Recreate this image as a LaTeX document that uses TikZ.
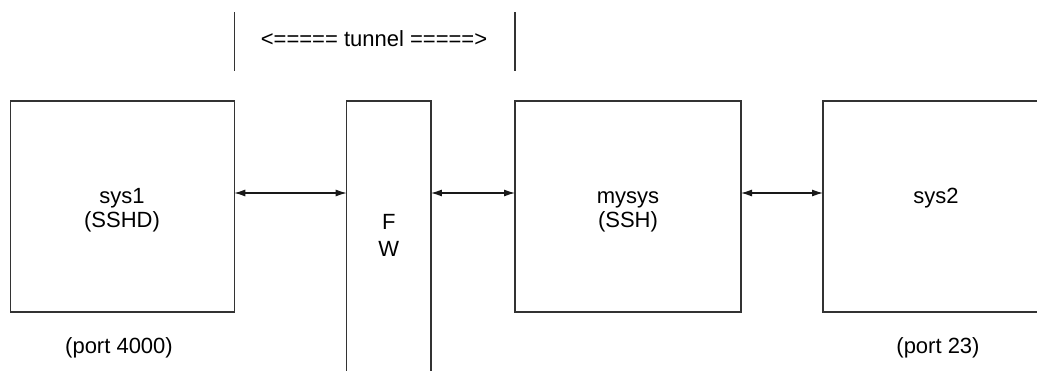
\documentclass[tikz,border=0pt]{standalone}
\usepackage{fontspec}
\setmainfont{Liberation Sans}
\usetikzlibrary{arrows.meta}
\begin{document}
\begin{tikzpicture}[x=1pt,y=-1pt,
  box/.style={draw=black!80,line width=1.1pt,inner sep=0pt,outer sep=0pt,rectangle},
  txt/.style={inner sep=0pt,outer sep=0pt,align=center,anchor=base,font=\fontsize{22}{24}\selectfont},
  link/.style={{Latex[length=11pt,width=7pt]}-{Latex[length=11pt,width=7pt]},line width=1.1pt,black!90},
  tline/.style={line width=1.1pt,black!80}]
\clip (0,0) rectangle (1037,370);
\fill[white] (0,0) rectangle (1037,370);
\node[box,minimum width=224pt,minimum height=211pt] (sys1) at (122.3,206.5) {};
\node[box,minimum width=84.3pt,minimum height=278pt] (fw) at (388.8,240) {};
\node[box,minimum width=226pt,minimum height=211pt] (mysys) at (628,206.5) {};
\node[box,minimum width=226pt,minimum height=211pt] (sys2) at (936,206.5) {};
\node[txt] (sys1label) at (122,227) {sys1\\(SSHD)};
\node[txt,font=\fontsize{22}{27}\selectfont] (fwlabel) at (388.8,256.5) {F\\W};
\node[txt] (mysyslabel) at (628,227) {mysys\\(SSH)};
\node[txt] (sys2label) at (936,203) {sys2};
\node[txt] (port1) at (119,353) {(port 4000)};
\node[txt] (port2) at (938,353) {(port 23)};
\node[txt] (tunnel) at (374,46.5) {<===== tunnel =====>};
\coordinate (arow) at (0,193);
\coordinate (ttop) at (0,12);
\coordinate (tbot) at (0,71);
\draw[link] (sys1.east |- arow) -- (fw.west |- arow);
\draw[link] (fw.east |- arow) -- (mysys.west |- arow);
\draw[link] (mysys.east |- arow) -- (sys2.west |- arow);
\draw[tline] (sys1.east |- ttop) -- (sys1.east |- tbot);
\draw[tline] (mysys.west |- ttop) -- (mysys.west |- tbot);
\end{tikzpicture}
\end{document}
